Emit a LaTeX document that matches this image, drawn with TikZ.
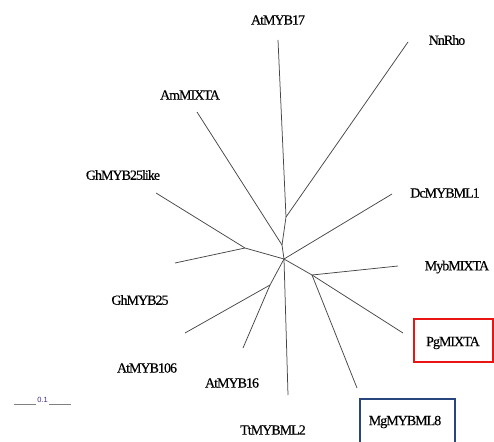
\documentclass[tikz,border=0pt]{standalone}
\usepackage{fontspec}
\setmainfont[LetterSpace=-7,FakeBold=0.4]{Liberation Serif}
\newfontfamily\barfont{Liberation Sans}
\definecolor{branch}{RGB}{70,70,70}
\definecolor{boxred}{RGB}{235,20,20}
\definecolor{boxblue}{RGB}{40,70,125}
\definecolor{barlabel}{RGB}{70,40,130}
\begin{document}
\begin{tikzpicture}[x=1pt,y=-1pt,
  edge/.style={draw=branch,line width=0.75pt},
  taxon/.style={inner sep=0pt,font=\fontsize{14}{16}\selectfont},
  scaleline/.style={draw=gray,line width=0.9pt}]
\useasboundingbox (0,0) rectangle (494,441);

% internal junctions of the unrooted tree
\coordinate (C) at (284,259);
\coordinate (A) at (286,217);
\coordinate (B) at (282,245);
\coordinate (D) at (245,248);
\coordinate (E) at (312,275);
\coordinate (F) at (270,285);

% branch tips
\coordinate (tAtMYB17) at (278,40);
\coordinate (tNnRho) at (408,42);
\coordinate (tAmMIXTA) at (197,112);
\coordinate (tGhMYB25like) at (156,193);
\coordinate (tGhMYB25) at (175,263);
\coordinate (tDcMYBML1) at (392,194);
\coordinate (tMybMIXTA) at (398,266);
\coordinate (tPgMIXTA) at (403,333);
\coordinate (tMgMYBML8) at (357,388);
\coordinate (tTtMYBML2) at (288,395);
\coordinate (tAtMYB106) at (185,333);
\coordinate (tAtMYB16) at (243,348);

% branches
\draw[edge] (C) -- (B) -- (A) -- (tAtMYB17);
\draw[edge] (A) -- (tNnRho);
\draw[edge] (B) -- (tAmMIXTA);
\draw[edge] (C) -- (D) -- (tGhMYB25like);
\draw[edge] (D) -- (tGhMYB25);
\draw[edge] (C) -- (tDcMYBML1);
\draw[edge] (C) -- (E);
\draw[edge] (E) -- (tMybMIXTA);
\draw[edge] (E) -- (tPgMIXTA);
\draw[edge] (E) -- (tMgMYBML8);
\draw[edge] (C) -- (tTtMYBML2);
\draw[edge] (C) -- (F) -- (tAtMYB106);
\draw[edge] (F) -- (tAtMYB16);

% taxon labels
\node[taxon] (AtMYB17) at (278,20) {AtMYB17};
\node[taxon] (NnRho) at (447,40) {NnRho};
\node[taxon] (AmMIXTA) at (190,95) {AmMIXTA};
\node[taxon] (GhMYB25like) at (123,175) {GhMYB25like};
\node[taxon] (DcMYBML1) at (445,193) {DcMYBML1};
\node[taxon] (MybMIXTA) at (457,267) {MybMIXTA};
\node[taxon] (GhMYB25) at (140,300) {GhMYB25};
\node[taxon] (AtMYB106) at (147,368) {AtMYB106};
\begin{scope}
  \clip (190,370) rectangle (280,387);
  \node[taxon] (AtMYB16) at (232,383) {AtMYB16};
\end{scope}
\node[taxon] (TtMYBML2) at (273,430) {TtMYBML2};
\node[taxon] (PgMIXTA) at (453,343) {PgMIXTA};
\node[taxon] (MgMYBML8) at (405,422) {MgMYBML8};

% highlight frames
\draw[boxred,line width=2pt] (413.5,318.5) rectangle (492.5,361.5);
\draw[boxblue,line width=2pt] (359.5,398.5) rectangle (455,445);

% scale bar
\coordinate (s1) at (14,404);
\coordinate (s2) at (36,404);
\coordinate (s3) at (49,404);
\coordinate (s4) at (71,404);
\draw[scaleline] (s1) -- (s2);
\draw[scaleline] (s3) -- (s4);
\node[inner sep=0pt,text=barlabel,font=\barfont\fontsize{7.5}{8}\selectfont] (bar) at (42.5,399.5) {0.1};
\end{tikzpicture}
\end{document}
